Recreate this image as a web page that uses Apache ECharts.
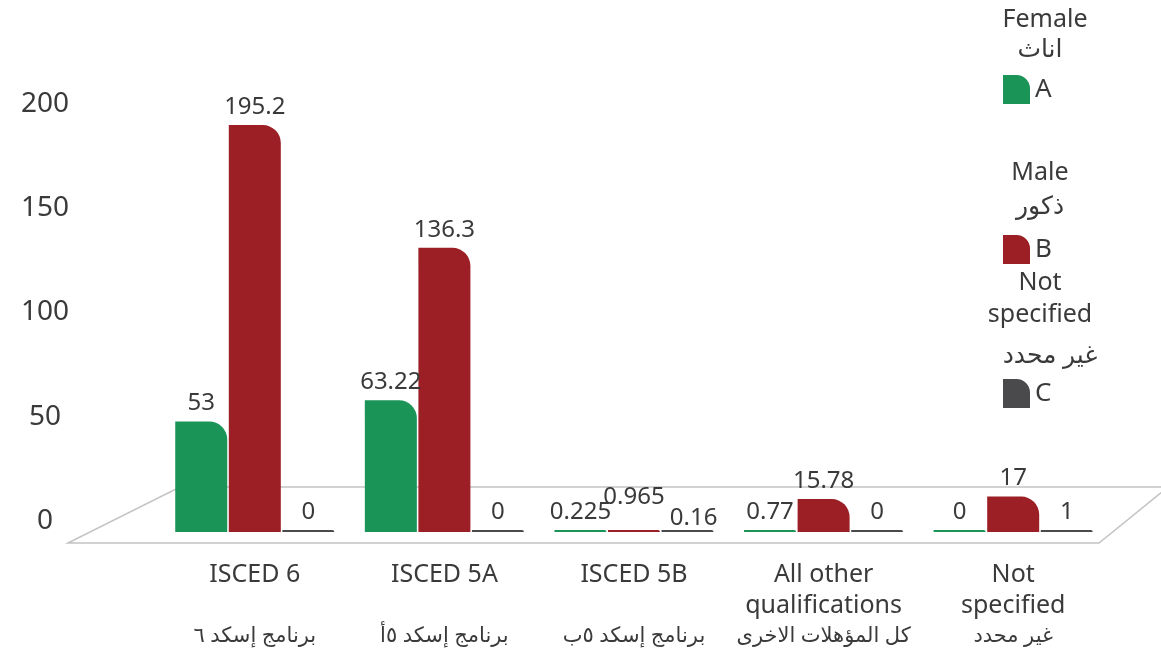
<!DOCTYPE html>
<html>
<head>
<meta charset="UTF-8">
<title>ISCED</title>
<script src="https://cdn.jsdelivr.net/npm/echarts@6/dist/echarts.min.js"></script>
<style>
  html, body { margin: 0; padding: 0; background: #fff; }
  #main { width: 1161px; height: 655px; }
</style>
</head>
<body>
<div id="main"></div>
<script>
var categories = [
  'ISCED 6\n\nبرنامج إسكد ٦',
  'ISCED 5A\n\nبرنامج إسكد ٥أ',
  'ISCED 5B\n\nبرنامج إسكد ٥ب',
  'All other\nqualifications\nكل المؤهلات الاخرى',
  'Not\nspecified\nغير محدد'
];
var femaleValues = [53, 63.22, 0.225, 0.77, 0];
var maleValues = [195.2, 136.3, 0.965, 15.78, 17];
var unknownValues = [0, 0, 0.16, 0, 1];
var yTicks = [0, 50, 100, 150, 200];

var font = "'Noto Sans', 'DejaVu Sans', sans-serif";
var textColor = '#3a3a3a';
var colors = ['#1a9457', '#9b1f24', '#4a4a4c'];

function barSeries(name, values, color, layout) {
  return {
    name: name,
    type: 'bar',
    data: values,
    barWidth: 52,
    barGap: '3%',
    barMinHeight: 2,
    itemStyle: { color: color, borderRadius: [0, 18, 0, 0] },
    label: {
      show: true,
      position: 'top',
      distance: 6,
      color: textColor,
      fontSize: 24,
      fontFamily: font
    },
    labelLayout: layout
  };
}

// the tiny ISCED 5B labels crowd each other, nudge them apart like the original
function nudgeUp(p) { return p.dataIndex === 2 ? { dy: -15 } : {}; }
function nudgeDown(p) { return p.dataIndex === 2 ? { dy: 6, dx: 6 } : {}; }

var legendIcon = 'path://M0,0 H14 A14,14 0 0 1 28,14 V30 H0 Z';
function legendAt(name, top) {
  return {
    data: [name],
    left: 998,
    top: top,
    itemWidth: 27,
    itemHeight: 30,
    icon: legendIcon,
    textStyle: { fontSize: 26, color: textColor, fontFamily: font }
  };
}

function heading(text, x, y) {
  return {
    type: 'text',
    x: x,
    y: y,
    style: {
      text: text,
      fill: textColor,
      font: '25px ' + font,
      align: 'center',
      verticalAlign: 'middle'
    }
  };
}

// english lines bigger than the arabic last line
function categoryLabel(value) {
  var lines = value.split('\n');
  var ar = lines.pop();
  return lines.map(function (l) { return '{en|' + l + '}'; }).join('\n') + '\n{ar|' + ar + '}';
}

var chart = echarts.init(document.getElementById('main'));
chart.setOption({
  animation: false,
  color: colors,
  grid: { left: 160, right: 53, top: 115, bottom: 123 },
  legend: [legendAt('A', 70), legendAt('B', 230), legendAt('C', 374)],
  xAxis: {
    type: 'category',
    data: categories,
    axisLine: { show: false },
    axisTick: { show: false },
    axisLabel: {
      interval: 0,
      margin: 27,
      color: textColor,
      fontFamily: font,
      verticalAlign: 'top',
      formatter: categoryLabel,
      rich: {
        en: { fontSize: 25, lineHeight: 31, color: textColor, fontFamily: font },
        ar: { fontSize: 21, lineHeight: 31, color: textColor, fontFamily: font }
      }
    }
  },
  yAxis: {
    type: 'value',
    min: yTicks[0],
    max: yTicks[yTicks.length - 1],
    interval: yTicks[1] - yTicks[0],
    axisLine: { show: false },
    axisTick: { show: false },
    splitLine: { show: false },
    axisLabel: {
      margin: 115,
      align: 'center',
      verticalAlign: 'bottom',
      lineHeight: 22,
      color: textColor,
      fontSize: 28,
      fontFamily: font
    }
  },
  graphic: [
    {
      type: 'polygon',
      z: -1,
      shape: { points: [[68, 543], [180, 487], [1168, 487], [1099, 543]] },
      style: { fill: 'none', stroke: '#c4c4c4', lineWidth: 1.5 }
    },
    heading('Female', 1045, 20),
    heading('اناث', 1040, 50),
    heading('Male', 1040, 173),
    heading('ذكور', 1040, 207),
    heading('Not', 1040, 283),
    heading('specified', 1040, 315),
    heading('غير محدد', 1050, 356)
  ],
  series: [
    barSeries('A', femaleValues, colors[0]),
    barSeries('B', maleValues, colors[1], nudgeUp),
    barSeries('C', unknownValues, colors[2], nudgeDown)
  ]
});
</script>
</body>
</html>
